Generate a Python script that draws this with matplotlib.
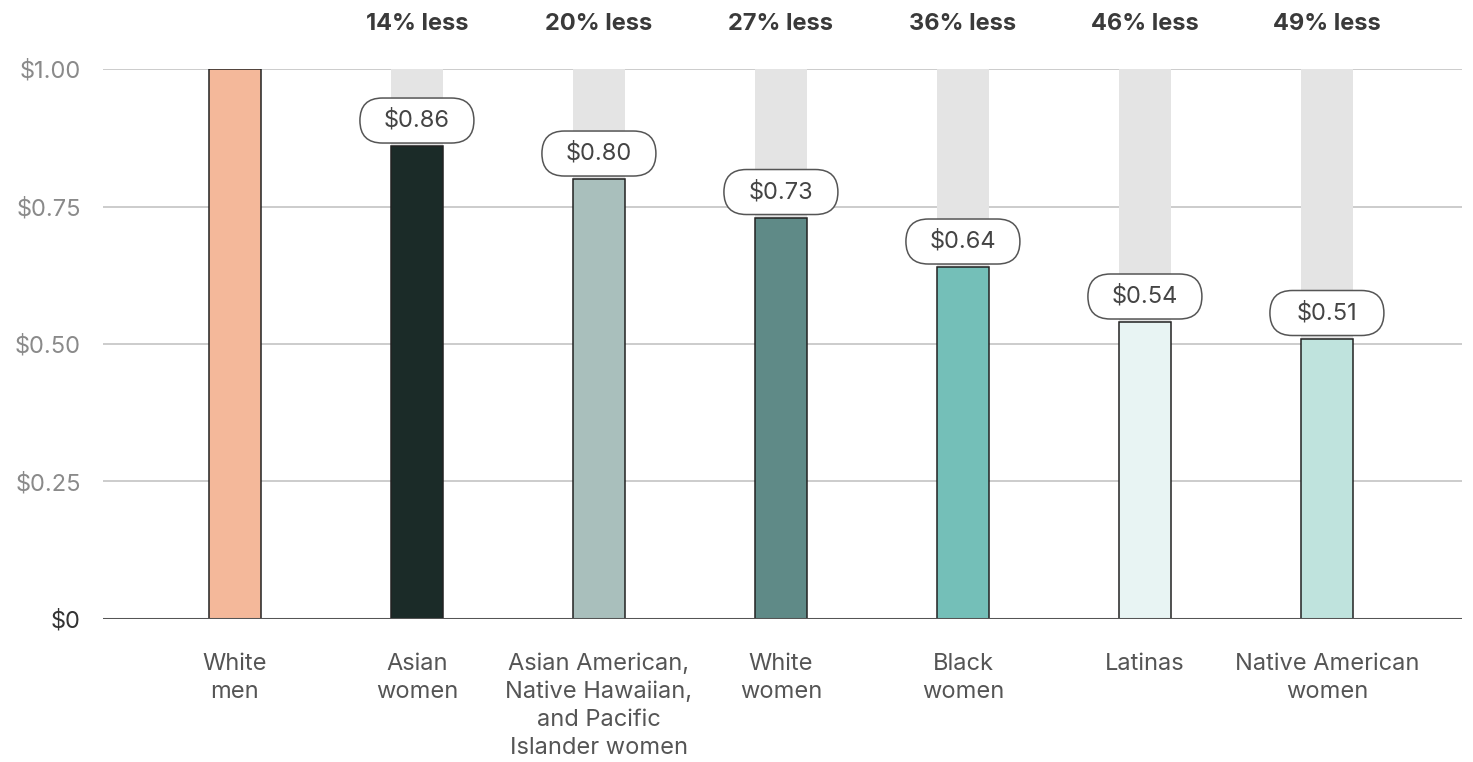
import numpy as np
import matplotlib
matplotlib.use("Agg")
import matplotlib.pyplot as plt
from matplotlib.patches import FancyBboxPatch
from matplotlib.transforms import ScaledTranslation

plt.rcParams['font.family'] = ['Inter', 'DejaVu Sans']

groups = ["White\nmen", "Asian\nwomen",
          "Asian American,\nNative Hawaiian,\nand Pacific\nIslander women",
          "White\nwomen", "Black\nwomen", "Latinas", "Native American\nwomen"]
earnings = [1.00, 0.86, 0.80, 0.73, 0.64, 0.54, 0.51]
gap_labels = ["", "14% less", "20% less", "27% less", "36% less", "46% less", "49% less"]
colors = ["#f4b89a", "#1b2b28", "#a9bfbc", "#5f8a87", "#74bfb8", "#e8f4f3", "#bfe3dd"]
yticks = [0, 0.25, 0.5, 0.75, 1.0]
ytick_labels = ["$0", "$0.25", "$0.50", "$0.75", "$1.00"]

fig = plt.figure(figsize=(14.73, 7.62), dpi=100)
ax = fig.add_axes([0.0699, 0.1877, 0.9226, 0.7217])

x = np.arange(len(groups))
width = 0.286

# grid lines
for yv in yticks[1:]:
    ax.axhline(yv, color="#c4c4c4", lw=1.2, zorder=0)
ax.axhline(0, color="#555555", lw=2.2, zorder=3)

# shortfall up to $1.00 in light grey
gap = [1.0 - v for v in earnings]
ax.bar(x, gap, width, bottom=earnings, color="#e4e4e4", edgecolor="none", zorder=1)
ax.bar(x, earnings, width, color=colors, edgecolor="#222222", linewidth=1.1, zorder=2)

# pill size in inches
pw, ph = 1.14, 0.45
for i, v in enumerate(earnings):
    if i > 0:
        # pill sits on top of the bar, sized in inches so the ends stay round
        tr = fig.dpi_scale_trans + ScaledTranslation(x[i], v, ax.transData)
        pill = FancyBboxPatch((-pw / 2, 0.03), pw, ph,
                              boxstyle=f"round,pad=0,rounding_size={ph / 2}",
                              fc="white", ec="#555555", lw=1.1,
                              transform=tr, zorder=4, clip_on=False)
        ax.add_patch(pill)
        ax.text(0, 0.03 + ph / 2, f"${v:.2f}", transform=tr, ha="center",
                va="center", fontsize=17, color="#444444", zorder=5)
    if gap_labels[i]:
        ax.text(x[i], 1.082, gap_labels[i], ha="center", va="center",
                fontsize=17, fontweight="bold", color="#3a3a3a", clip_on=False)
    ax.text(x[i], -0.062, groups[i], ha="center", va="top", fontsize=17,
            color="#555555", linespacing=1.36, clip_on=False)

ax.set_xlim(-0.725, 6.742)
ax.set_ylim(0, 1.0)
ax.set_yticks(yticks)
ax.set_yticklabels(ytick_labels)
ax.set_xticks([])
ax.tick_params(axis="y", length=0, pad=16, labelsize=17, labelcolor="#8a8a8a")
ax.get_yticklabels()[0].set_color("#333333")
for s in ax.spines.values():
    s.set_visible(False)

fig.savefig("out.png", dpi=100)
